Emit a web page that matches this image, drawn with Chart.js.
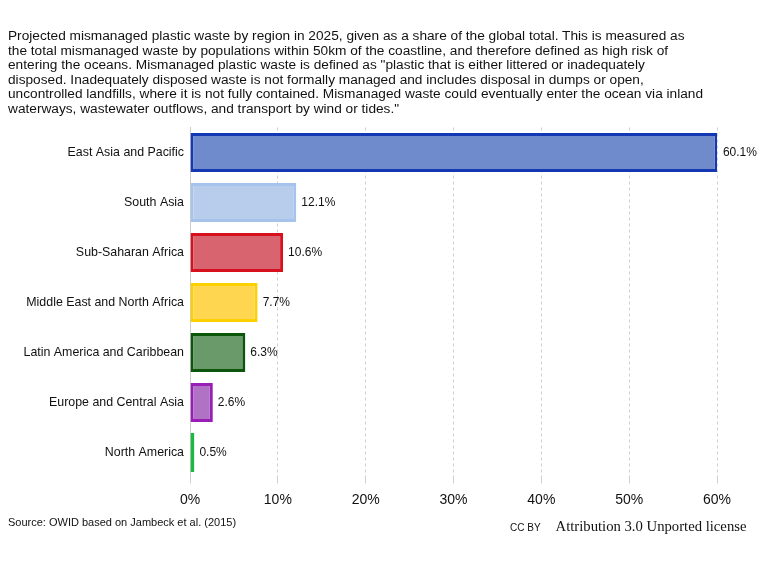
<!DOCTYPE html>
<html lang="en">
<head>
<meta charset="UTF-8">
<title>Mismanaged plastic waste by region</title>
<script src="https://cdn.jsdelivr.net/npm/chart.js"></script>
<style>
    body {
        margin: 0;
        width: 768px;
        height: 568px;
        background: #fff;
        font-family: "Liberation Sans", Arial, sans-serif;
        position: relative;
        overflow: hidden;
    }
    .intro {
        position: absolute;
        left: 8px;
        top: 29px;
        font-size: 12px;
        line-height: 14.6px;
        color: #111;
        white-space: nowrap;
        transform: scaleX(1.14);
        transform-origin: left top;
    }
    .chart-box {
        position: absolute;
        left: 0;
        top: 0;
        width: 768px;
        height: 568px;
    }
    .source {
        position: absolute;
        left: 8px;
        top: 516px;
        font-size: 11px;
        color: #111;
    }
    .licence {
        position: absolute;
        left: 510px;
        top: 517px;
        color: #111;
        white-space: nowrap;
    }
    .licence .cc { font-size: 10px; margin-right: 15px; }
    .licence .attr { font-family: "Liberation Serif", "Times New Roman", serif; font-size: 14.7px; }
</style>
</head>
<body>
    <div class="chart-box"><canvas id="wasteChart" width="768" height="568"></canvas></div>

    <div class="intro">
        Projected mismanaged plastic waste by region in 2025, given as a share of the global total. This is measured as<br>
        the total mismanaged waste by populations within 50km of the coastline, and therefore defined as high risk of<br>
        entering the oceans. Mismanaged plastic waste is defined as "plastic that is either littered or inadequately<br>
        disposed. Inadequately disposed waste is not formally managed and includes disposal in dumps or open,<br>
        uncontrolled landfills, where it is not fully contained. Mismanaged waste could eventually enter the ocean via inland<br>
        waterways, wastewater outflows, and transport by wind or tides."
    </div>
    <div class="source">Source: OWID based on Jambeck et al. (2015)</div>
    <div class="licence"><span class="cc">CC BY</span><span class="attr">Attribution 3.0 Unported license</span></div>

<script>
    // data
    const regions = [
        "East Asia and Pacific",
        "South Asia",
        "Sub-Saharan Africa",
        "Middle East and North Africa",
        "Latin America and Caribbean",
        "Europe and Central Asia",
        "North America"
    ];
    const shares = [60.1, 12.1, 10.6, 7.7, 6.3, 2.6, 0.5];
    const tickValues = [0, 10, 20, 30, 40, 50, 60];

    const fills   = ["#6f8bcb", "#b8cdec", "#d8646f", "#fed64f", "#6a9a6a", "#b072c4", "#2cbf4c"];
    const borders = ["#1438b4", "#a6c3ec", "#d7101e", "#fdd000", "#0c560c", "#9a1db6", "#1db840"];

    // value labels at the end of each bar
    const barLabels = {
        id: "barLabels",
        afterDatasetsDraw(chart) {
            const ctx = chart.ctx;
            const meta = chart.getDatasetMeta(0);
            ctx.save();
            ctx.font = "12px 'Liberation Sans', Arial, sans-serif";
            ctx.fillStyle = "#111";
            ctx.textBaseline = "middle";
            ctx.textAlign = "left";
            meta.data.forEach((bar, i) => {
                ctx.fillText(shares[i].toFixed(1) + "%", bar.x + 5, bar.y);
            });
            ctx.restore();
        }
    };

    new Chart(document.getElementById("wasteChart"), {
        type: "bar",
        data: {
            labels: regions,
            datasets: [{
                data: shares,
                backgroundColor: fills,
                borderColor: borders,
                borderWidth: 3,
                borderSkipped: false,
                barPercentage: 0.78,
                categoryPercentage: 1
            }]
        },
        options: {
            indexAxis: "y",
            responsive: false,
            animation: false,
            layout: { padding: { top: 127.5, right: 51, bottom: 30, left: 0 } },
            plugins: {
                legend: { display: false },
                tooltip: { enabled: false }
            },
            scales: {
                x: {
                    min: 0,
                    max: 60,
                    afterBuildTicks(scale) {
                        scale.ticks = tickValues.map(v => ({ value: v }));
                    },
                    afterFit(scale) { scale.height = 60.5; },
                    grid: {
                        color: "#cfcfcf",
                        drawTicks: true,
                        tickLength: 6
                    },
                    border: { display: false, dash: [3, 3] },
                    ticks: {
                        padding: 8,
                        color: "#111",
                        font: { size: 14, family: "'Liberation Sans', Arial, sans-serif" },
                        callback: v => v + "%"
                    }
                },
                y: {
                    afterFit(scale) { scale.width = 190; },
                    grid: { display: false, drawTicks: false },
                    border: { display: true, color: "#cccccc", width: 1 },
                    ticks: {
                        padding: 6,
                        color: "#111",
                        font: { size: 12.4, family: "'Liberation Sans', Arial, sans-serif" }
                    }
                }
            }
        },
        plugins: [barLabels]
    });
</script>
</body>
</html>
